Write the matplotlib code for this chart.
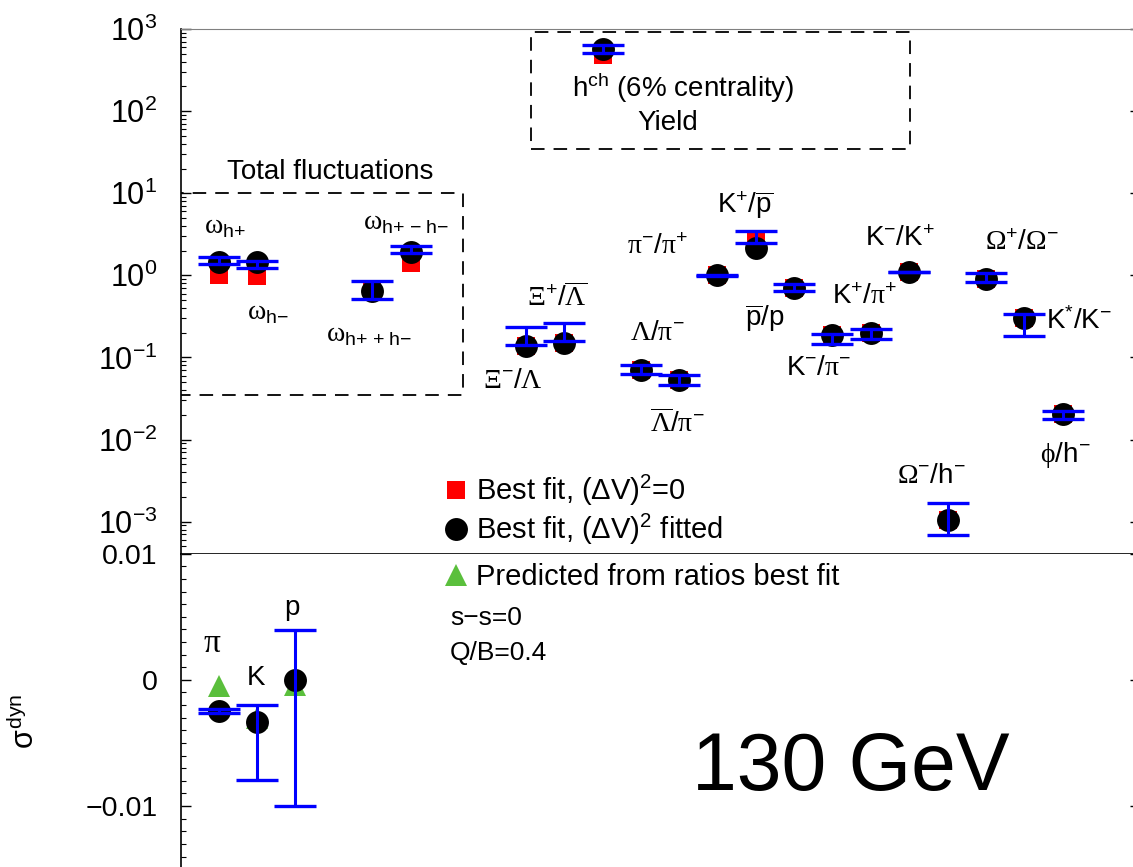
import matplotlib
matplotlib.use('Agg')
import matplotlib.pyplot as plt
from matplotlib.patches import Rectangle
from matplotlib.lines import Line2D
from matplotlib.ticker import LogLocator, NullFormatter, FixedLocator, MultipleLocator

plt.rcParams['font.family'] = ['Liberation Sans', 'DejaVu Sans']
plt.rcParams['mathtext.fontset'] = 'custom'
plt.rcParams['mathtext.rm'] = 'Liberation Sans'
plt.rcParams['mathtext.it'] = 'Liberation Sans'
plt.rcParams['mathtext.sf'] = 'Liberation Serif'

# ---- upper panel: yields, ratios, total fluctuations ----
names = [r'$\mathsf{\omega}_{\mathrm{h{+}}}$', r'$\mathsf{\omega}_{\mathrm{h{-}}}$',
         r'$\mathsf{\omega}_{\mathrm{h{+}\ {+}\ h{-}}}$', r'$\mathsf{\omega}_{\mathrm{h{+}\ {-}\ h{-}}}$',
         r'$\mathrm{h}^{\mathrm{ch}}$ (6% centrality)',
         r'$\mathsf{\Xi}^{-}/\mathsf{\Lambda}$', r'$\mathsf{\Xi}^{+}/\overline{\mathsf{\Lambda}}$',
         r'$\mathsf{\Lambda}/\mathsf{\pi}^{-}$', r'$\overline{\mathsf{\Lambda}}/\mathsf{\pi}^{-}$',
         r'$\mathsf{\pi}^{-}/\mathsf{\pi}^{+}$', r'$\mathrm{K}^{+}/\overline{\mathrm{p}}$',
         r'$\overline{\mathrm{p}}/\mathrm{p}$', r'$\mathrm{K}^{-}/\mathsf{\pi}^{-}$',
         r'$\mathrm{K}^{+}/\mathsf{\pi}^{+}$', r'$\mathrm{K}^{-}/\mathrm{K}^{+}$',
         r'$\mathsf{\Omega}^{-}/\mathrm{h}^{-}$', r'$\mathsf{\Omega}^{+}/\mathsf{\Omega}^{-}$',
         r'$\mathrm{K}^{*}/\mathrm{K}^{-}$', r'$\mathsf{\phi}/\mathrm{h}^{-}$']
fit_novol = [1.0, 0.99, 0.64, 1.40, 482, 0.137, 0.151, 0.0708, 0.0535, 1.0, 2.55,
             0.70, 0.189, 0.20, 1.10, 0.00106, 0.894, 0.30, 0.0206]
fit_vol = [1.44, 1.45, 0.64, 1.92, 565, 0.137, 0.151, 0.0708, 0.0535, 1.0, 2.15,
           0.70, 0.189, 0.20, 1.10, 0.00106, 0.894, 0.30, 0.0206]
data_lo = [1.36, 1.22, 0.51, 1.89, 514, 0.14, 0.16, 0.0634, 0.0456, 0.99, 2.5,
           0.638, 0.144, 0.169, 1.09, 0.00069, 0.838, 0.18, 0.0177]
data_hi = [1.66, 1.48, 0.845, 2.28, 638, 0.234, 0.265, 0.080, 0.0605, 1.01, 3.47,
           0.777, 0.195, 0.224, 1.11, 0.00167, 1.06, 0.34, 0.0222]
log_ticks = [1e-3, 1e-2, 1e-1, 1e0, 1e1, 1e2, 1e3]

# ---- lower panel: sigma dyn ----
sd_names = [r'$\mathsf{\pi}$', 'K', 'p']
sd_fit = [-0.00245, -0.0033, 0.0]
sd_pred = [-0.00045, -0.003, -0.0004]
sd_lo = [-0.0026, -0.00797, -0.00998]
sd_hi = [-0.0023, -0.00198, 0.00398]
lin_ticks = [-0.01, 0, 0.01]
lin_labels = ['\u22120.01', '0', '0.01']

# horizontal positions (arbitrary x units) and label anchors
xpos = [219, 257, 372, 411, 603, 526, 564, 641, 679, 717, 756, 794, 832, 871, 909, 948, 986, 1024, 1063]
lab_xy = [(204, 3.85), (247, 0.35), (326, 0.186), (363, 4.4), (572, 191),
          (483, 0.052), (527, 0.54), (630, 0.196), (650, 0.0157), (627, 2.2), (717, 7.1),
          (745, 0.30), (786, 0.074), (832, 0.54), (865, 2.8),
          (897, 0.0036), (985, 2.45), (1046, 0.28), (1040, 0.0064)]
sd_xpos = [219, 257, 295]
sd_lab_xy = [(212, 0.0029), (256, 0.00016), (292, 0.0057)]
sd_lab_size = [24, 20, 20]

W, H = 1133, 867
fig = plt.figure(figsize=(W / 100, H / 100), dpi=100)
x0, x1 = 181, 1140
ytop, ymid = 29, 553.7
ax = fig.add_axes([x0 / W, 1 - ymid / H, (x1 - x0) / W, (ymid - ytop) / H])
ax2 = fig.add_axes([x0 / W, 0, (x1 - x0) / W, 1 - ymid / H])

blue = '#0000ff'
err_kw = dict(fmt='none', ecolor=blue, elinewidth=2.2, capsize=15, capthick=2.4, zorder=4)
dash = (0, (7.5, 5))

# upper
ax.set_yscale('log')
ax.plot(xpos, fit_novol, 's', color='#ff0000', ms=12.5, mew=0, zorder=2)
ax.plot(xpos, fit_vol, 'o', color='black', ms=16.5, mew=0, zorder=3)
ax.errorbar(xpos, data_lo, yerr=[[0] * len(xpos), [h - l for h, l in zip(data_hi, data_lo)]], **err_kw)
for s, (tx, ty) in zip(names, lab_xy):
    ax.text(tx, ty, s, fontsize=20, ha='left', va='center')
ax.text(637, 71, 'Yield', fontsize=20, ha='left', va='center')
ax.text(330, 18, 'Total fluctuations', fontsize=20, ha='center', va='center')
ax.add_patch(Rectangle((177, 0.035), 286, 10 - 0.035, fill=False, ls=dash, lw=1.3, ec='black', zorder=1))
ax.add_patch(Rectangle((531, 35), 379, 920 - 35, fill=False, ls=dash, lw=1.3, ec='black', zorder=1))
ax.set_xlim(x0, x1)
ax.set_ylim(10 ** -3.39, 1e3)
ax.yaxis.set_major_locator(FixedLocator(log_ticks))
ax.yaxis.set_minor_locator(LogLocator(base=10, subs=range(2, 10), numticks=20))
ax.yaxis.set_minor_formatter(NullFormatter())

h1 = Line2D([], [], ls='none', marker='s', color='#ff0000', ms=12.5, mew=0)
h2 = Line2D([], [], ls='none', marker='o', color='black', ms=16.5, mew=0)
ax.legend([h1, h2], [r'Best fit, $(\Delta\mathrm{V})^{2}$=0', r'Best fit, $(\Delta\mathrm{V})^{2}$ fitted'],
          loc='center left', bbox_to_anchor=(0.2716, 0.0833), frameon=False, fontsize=21,
          handlelength=1.0, handletextpad=0.19, labelspacing=0.15, borderpad=0, borderaxespad=0)

# lower
ax2.plot(sd_xpos, sd_pred, '^', color='#5abf3c', ms=16, mew=0, zorder=2)
ax2.plot(sd_xpos, sd_fit, 'o', color='black', ms=16.5, mew=0, zorder=3)
ax2.errorbar(sd_xpos, sd_lo, yerr=[[0] * 3, [h - l for h, l in zip(sd_hi, sd_lo)]], **err_kw)
for s, (tx, ty), fs in zip(sd_names, sd_lab_xy, sd_lab_size):
    ax2.text(tx, ty, s, fontsize=fs, ha='center', va='center')
ax2.text(450, 0.00491, 's\u2212s=0', fontsize=19, ha='left', va='center')
ax2.text(450, 0.00214, 'Q/B=0.4', fontsize=19, ha='left', va='center')
ax2.text(851, -0.0071, '130 GeV', fontsize=58, ha='center', va='center')
h3 = Line2D([], [], ls='none', marker='^', color='#5abf3c', ms=16, mew=0)
ax2.legend([h3], ['Predicted from ratios best fit'], loc='center left', bbox_to_anchor=(0.2716, 0.9256),
           frameon=False, fontsize=21, handlelength=1.0, handletextpad=0.19, borderpad=0, borderaxespad=0)
ax2.set_xlim(x0, x1)
ax2.set_ylim(-0.01483, 0.01)
ax2.yaxis.set_major_locator(FixedLocator(lin_ticks))
ax2.yaxis.set_minor_locator(MultipleLocator(0.001))
ax2.set_yticklabels(lin_labels)

for a in (ax, ax2):
    a.set_xticks([])
    a.tick_params(axis='y', which='both', direction='in', left=True, right=True, pad=17)
    a.tick_params(axis='y', which='major', length=7.2, width=1)
    a.tick_params(axis='y', which='minor', length=3.6, width=0.8)
    a.spines['left'].set_linewidth(1.2)
ax.tick_params(axis='y', labelsize=22)
ax2.tick_params(axis='y', labelsize=20.5)
ax.spines['top'].set_color('#808080')
ax.spines['bottom'].set_linewidth(1.2)
ax2.spines['top'].set_visible(False)
ax2.spines['bottom'].set_visible(False)

fig.text(25 / W, 1 - 721 / H, r'$\sigma^{\mathrm{dyn}}$', fontsize=22, rotation=90, ha='center', va='center')

fig.savefig('out.png', dpi=100)
